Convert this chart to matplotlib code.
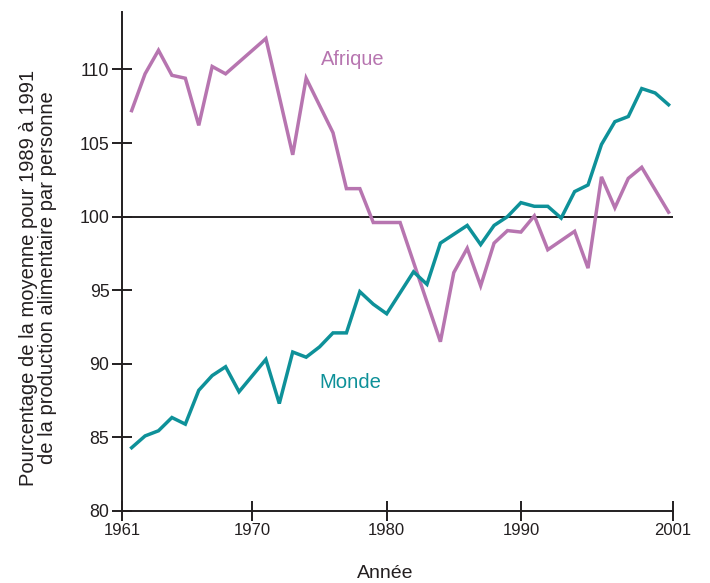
import matplotlib
matplotlib.use("Agg")
import matplotlib.pyplot as plt

plt.rcParams['font.family'] = ['Liberation Sans', 'DejaVu Sans']

# Afrique : indice de production alimentaire par personne (1989-1991 = 100)
afrique_years = [1961, 1962, 1963, 1964, 1965, 1966, 1967, 1968, 1971, 1973,
                 1974, 1976, 1977, 1978, 1979, 1981, 1984, 1985, 1986, 1987,
                 1988, 1989, 1990, 1991, 1992, 1994, 1995, 1996, 1997, 1998,
                 1999, 2001]
afrique_vals = [107.2, 109.7, 111.3, 109.6, 109.4, 106.2, 110.2, 109.7, 112.1, 104.2,
                109.4, 105.7, 101.9, 101.9, 99.6, 99.6, 91.5, 96.2, 97.85, 95.3,
                98.2, 99.05, 98.95, 100.05, 97.75, 99.0, 96.5, 102.7, 100.6, 102.6,
                103.35, 100.3]

# Monde
monde_years = [1961, 1962, 1963, 1964, 1965, 1966, 1967, 1968, 1969, 1971,
               1972, 1973, 1974, 1975, 1976, 1977, 1978, 1979, 1980, 1982,
               1983, 1984, 1986, 1987, 1988, 1989, 1990, 1991, 1992, 1993,
               1994, 1995, 1996, 1997, 1998, 1999, 2000, 2001]
monde_vals = [84.3, 85.1, 85.45, 86.35, 85.9, 88.2, 89.2, 89.8, 88.1, 90.3,
              87.3, 90.8, 90.45, 91.15, 92.1, 92.1, 94.9, 94.05, 93.4, 96.25,
              95.4, 98.2, 99.4, 98.1, 99.4, 100.0, 100.95, 100.7, 100.7, 99.9,
              101.7, 102.15, 104.9, 106.45, 106.8, 108.7, 108.4, 107.6]

xtick_pos = [1960.28, 1970, 1980, 1990, 2001.33]
xtick_labels = ['1961', '1970', '1980', '1990', '2001']
ytick_pos = [80, 85, 90, 95, 100, 105, 110]

col_afr = '#b775b0'
col_mon = '#0e9199'
ink = '#231f20'

fig = plt.figure(figsize=(7.1, 5.83), dpi=100)
ax = fig.add_axes([0.1718, 0.1235, 0.7761, 0.8559])

ax.axhline(100, color=ink, lw=1.4, zorder=1)
ax.plot(afrique_years, afrique_vals, color=col_afr, lw=2.5, solid_joinstyle='miter', zorder=3)
ax.plot(monde_years, monde_vals, color=col_mon, lw=2.5, solid_joinstyle='miter', zorder=3)

ax.set_xlim(1960.28, 2001.33)
ax.set_ylim(80, 113.9)

for s in ['top', 'right']:
    ax.spines[s].set_visible(False)
for s in ['left', 'bottom']:
    ax.spines[s].set_color(ink)
    ax.spines[s].set_linewidth(1.4)

ax.set_xticks(xtick_pos)
ax.set_xticklabels(xtick_labels)
ax.set_yticks(ytick_pos)
ax.tick_params(axis='x', direction='inout', length=14, width=1.4, color=ink,
               labelsize=12, pad=2, labelcolor=ink)
ax.tick_params(axis='y', direction='inout', length=14, width=1.4, color=ink,
               labelsize=12.8, pad=2, labelcolor=ink)

ax.text(1977.5, 110.7, 'Afrique', color=col_afr, fontsize=14.4, ha='center', va='center')
ax.text(1977.3, 88.7, 'Monde', color=col_mon, fontsize=14.6, ha='center', va='center')

fig.text(38 / 710, 1 - 277.5 / 583,
         'Pourcentage de la moyenne pour 1989 à 1991\nde la production alimentaire par personne',
         rotation=90, ha='center', va='center', multialignment='center',
         fontsize=14.5, color=ink, linespacing=1.05)
fig.text(385 / 710, 1 - 573 / 583, 'Année', ha='center', va='center',
         fontsize=14, color=ink)

fig.savefig('out.png', dpi=100)
